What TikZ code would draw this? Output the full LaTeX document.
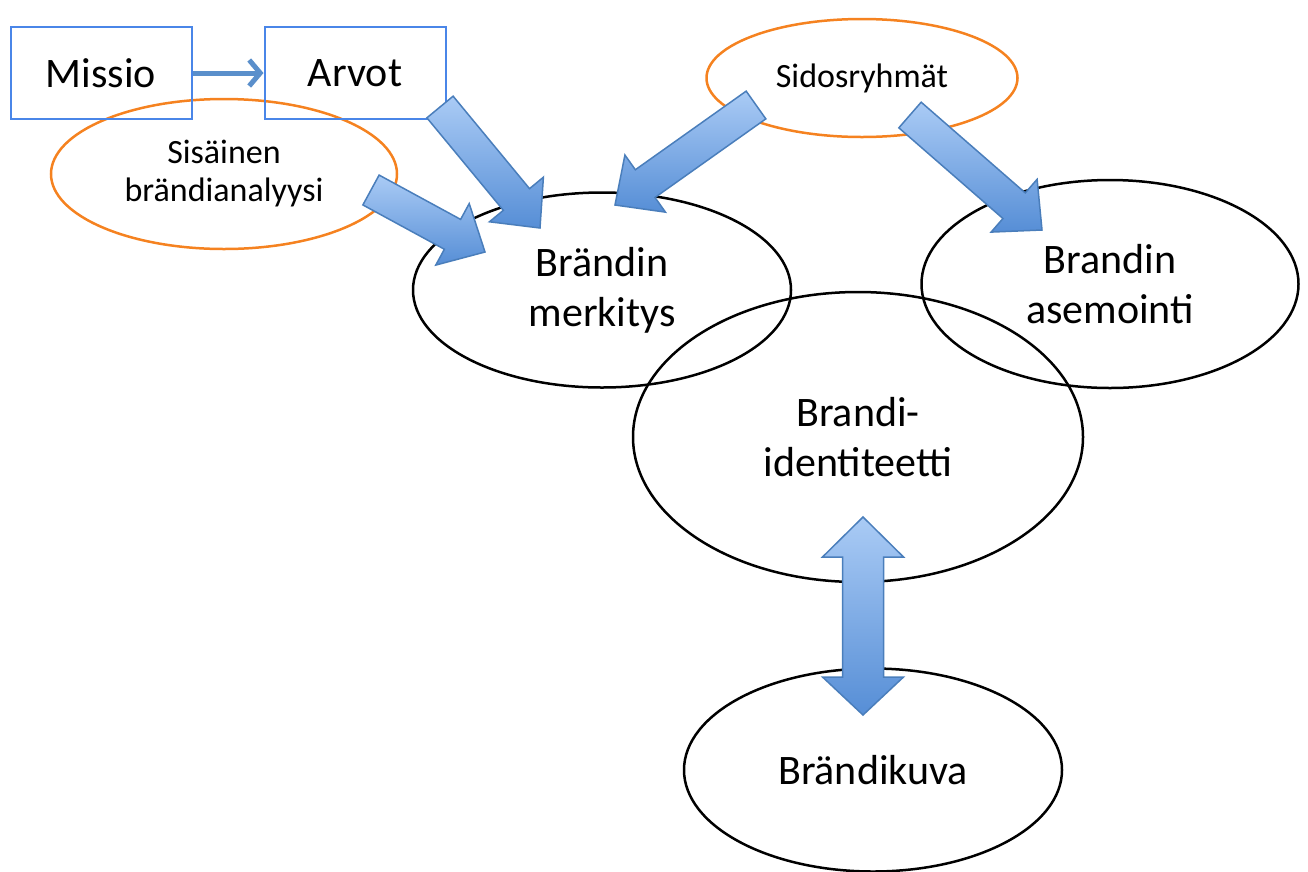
\documentclass[tikz,border=0pt]{standalone}
\usepackage{fontspec}
\setmainfont{Carlito}
\usetikzlibrary{shapes.geometric,arrows.meta,calc}

\definecolor{boxblue}{RGB}{74,134,232}
\definecolor{ovalorange}{RGB}{245,130,32}
\definecolor{linkblue}{RGB}{90,143,203}
\definecolor{arrowedge}{RGB}{74,126,187}
\definecolor{arrowtop}{RGB}{170,203,245}
\definecolor{arrowbot}{RGB}{86,142,214}

\tikzset{
	bigfont/.style={font=\fontsize{42}{50}\selectfont},
	smallfont/.style={font=\fontsize{34}{38}\selectfont},
	blockarrow/.style={draw=arrowedge,line width=1.5,top color=arrowtop,bottom color=arrowbot,line join=miter}
}

% broad arrow from tail #1 to tip #2
\newcommand{\blockarrow}[2]{%
	\coordinate (neck) at ($(#2)!37pt!(#1)$);
	\path[blockarrow] ($(#1)!17pt!90:(#2)$) -- ($(neck)!17pt!90:(#2)$) -- ($(neck)!35pt!90:(#2)$) -- (#2)
		-- ($(neck)!35pt!-90:(#2)$) -- ($(neck)!17pt!-90:(#2)$) -- ($(#1)!17pt!-90:(#2)$) -- cycle;
}

\begin{document}
\begin{tikzpicture}[x=1pt,y=-1pt]
	\useasboundingbox (0,0) rectangle (1308,871);

	\begin{scope}[every node/.style={ellipse,draw,line width=2.5,inner sep=0,bigfont,align=center}]
		\node[minimum width=378,minimum height=195] (mer) at (602,290) {Brändin\\merkitys};
		\node[minimum width=377,minimum height=208] (ase) at (1110,284) {Brandin\\asemointi};
		\node[minimum width=450,minimum height=290] (ide) at (858,437) {Brandi-\\identiteetti};
		\node[minimum width=378,minimum height=203] (kuva) at (873,770) {Brändikuva};
	\end{scope}

	\begin{scope}[every node/.style={ellipse,draw=ovalorange,line width=2.5,inner sep=0,smallfont,align=center}]
		\node[minimum width=346,minimum height=150] (sis) at (224,174) {Sisäinen\\brändianalyysi};
		\node[minimum width=311,minimum height=118] (sid) at (862,78) {Sidosryhmät};
	\end{scope}

	\begin{scope}[every node/.style={rectangle,draw=boxblue,line width=2,minimum width=181,minimum height=92,bigfont}]
		\node (mis) at (101,73) {Missio};
		\node (arv) at (355,73) {Arvot};
	\end{scope}

	\path[draw=linkblue,line width=5,-{Straight Barb[length=11pt,width=26pt]}] (mis) edge (arv);

	% broad arrows
	\coordinate (sisT) at (371,190); \coordinate (sisH) at (485,252);
	\coordinate (arvT) at (440,107); \coordinate (arvH) at (540,228);
	\coordinate (sidT) at (756,105); \coordinate (sidH) at (615,205);
	\coordinate (sidT2) at (910,115); \coordinate (sidH2) at (1042,230);
	\blockarrow{sisT}{sisH}
	\blockarrow{arvT}{arvH}
	\blockarrow{sidT}{sidH}
	\blockarrow{sidT2}{sidH2}

	\coordinate (up) at (863,517);
	\coordinate (down) at (863,715);
	\path[blockarrow] (up) -- ($(up)+(40.5,40)$) -- ($(up)+(20.5,40)$) -- ($(down)+(20.5,-38)$) -- ($(down)+(40.5,-38)$)
		-- (down) -- ($(down)+(-40.5,-38)$) -- ($(down)+(-20.5,-38)$) -- ($(up)+(-20.5,40)$) -- ($(up)+(-40.5,40)$) -- cycle;
\end{tikzpicture}
\end{document}
